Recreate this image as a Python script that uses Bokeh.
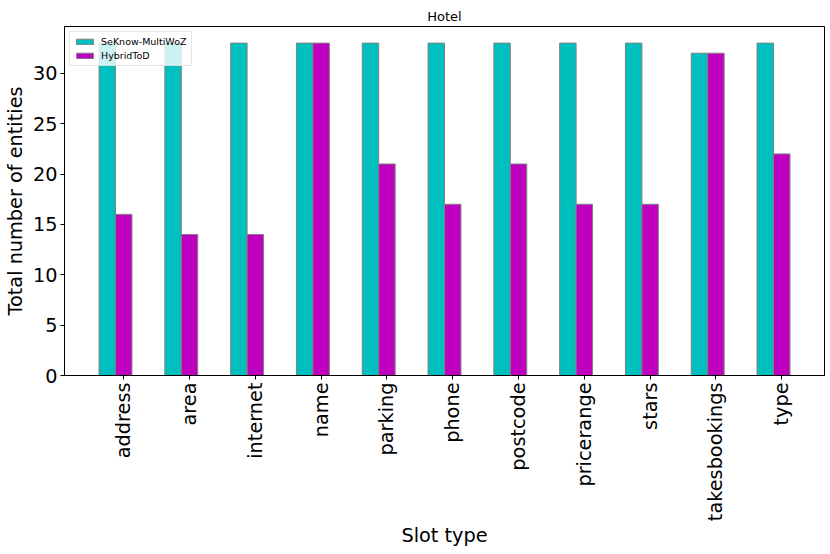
import math
from bokeh.plotting import figure
from bokeh.models import ColumnDataSource, FixedTicker, Range1d, Legend, LegendItem
from bokeh.transform import dodge
from bokeh.embed import file_html
from bokeh.resources import INLINE

slots = ["address", "area", "internet", "name", "parking", "phone", "postcode",
         "pricerange", "stars", "takesbookings", "type"]
seknow = [33, 33, 33, 33, 33, 33, 33, 33, 33, 32, 33]
hybrid = [16, 14, 14, 33, 21, 17, 21, 17, 17, 32, 22]
y_ticks = [0, 5, 10, 15, 20, 25, 30]

FONT = "DejaVu Sans"
CYAN = "#00bfbf"
MAGENTA = "#bf00bf"

pos = list(range(len(slots)))
src = ColumnDataSource(dict(x=pos, seknow=seknow, hybrid=hybrid))

p = figure(width=826, height=550, output_backend="svg", toolbar_location=None,
           x_range=Range1d(-0.9, 10.65), y_range=Range1d(0, 34.65),
           min_border_left=58, min_border_right=2, min_border_top=26,
           min_border_bottom=60, title="Hotel")

r1 = p.vbar(x=dodge("x", -0.25), top="seknow", width=0.25, source=src,
            fill_color=CYAN, line_color="grey", line_width=1)
r2 = p.vbar(x="x", top="hybrid", width=0.25, source=src,
            fill_color=MAGENTA, line_color="grey", line_width=1)

p.title.align = "center"
p.title.text_font = FONT
p.title.text_font_size = "13px"
p.title.text_font_style = "normal"
p.title.text_color = "black"
p.title.standoff = 5

p.xgrid.visible = False
p.ygrid.visible = False
p.outline_line_color = "black"
p.outline_line_width = 1

xa = p.xaxis[0]
xa.ticker = FixedTicker(ticks=pos)
xa.major_label_overrides = {i: s for i, s in zip(pos, slots)}
xa.major_label_orientation = math.pi / 2
xa.axis_label = "Slot type"

ya = p.yaxis[0]
ya.ticker = FixedTicker(ticks=y_ticks)
ya.axis_label = "Total number of entities"

for ax in (xa, ya):
    ax.major_label_text_font = FONT
    ax.major_label_text_font_size = "19.3px"
    ax.major_label_text_color = "black"
    ax.axis_label_text_font = FONT
    ax.axis_label_text_font_size = "19.3px"
    ax.axis_label_text_font_style = "normal"
    ax.axis_label_text_color = "black"
    ax.major_tick_out = 4
    ax.major_tick_in = 0
    ax.minor_tick_out = 0
    ax.minor_tick_in = 0
    ax.major_label_standoff = 3
    ax.axis_line_color = "black"
    ax.major_tick_line_color = "black"
xa.axis_label_standoff = 0
ya.axis_label_standoff = 3

legend = Legend(items=[LegendItem(label="SeKnow-MultiWoZ", renderers=[r1]),
                       LegendItem(label="HybridToD", renderers=[r2])],
                location="top_left")
legend.label_text_font = FONT
legend.label_text_font_size = "9.5px"
legend.label_text_color = "black"
legend.glyph_width = 21
legend.glyph_height = 7
legend.label_height = 10
legend.label_standoff = 6
legend.spacing = 3
legend.padding = 4
legend.margin = 5
legend.border_line_color = "#cccccc"
legend.background_fill_alpha = 0.8
p.add_layout(legend)

open("out.html", "w").write(file_html(p, INLINE))
